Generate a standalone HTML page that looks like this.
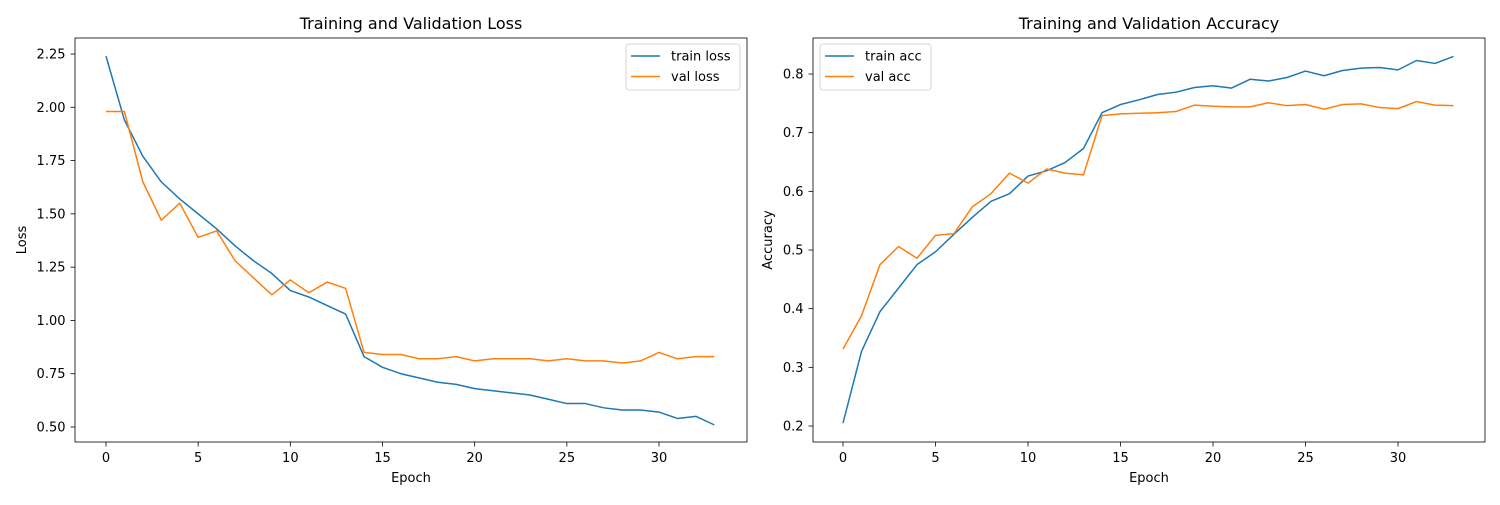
<!DOCTYPE html>
<html><head><meta charset="utf-8"><style>
body{margin:0;background:#fff;font-family:"Liberation Sans","DejaVu Sans",sans-serif}
svg text{font-family:"DejaVu Sans","Liberation Sans",sans-serif}
</style></head><body>
<svg id="c" width="1500" height="500"></svg>
<script>
const epochs = Array.from({length:34},(_,i)=>i);
const trainLoss=[2.24,1.94,1.77,1.65,1.57,1.50,1.43,1.35,1.28,1.22,1.14,1.11,1.07,1.03,0.83,0.78,0.75,0.73,0.71,0.70,0.68,0.67,0.66,0.65,0.63,0.61,0.61,0.59,0.58,0.58,0.57,0.54,0.55,0.51];
const valLoss=[1.98,1.98,1.65,1.47,1.55,1.39,1.42,1.28,1.20,1.12,1.19,1.13,1.18,1.15,0.85,0.84,0.84,0.82,0.82,0.83,0.81,0.82,0.82,0.82,0.81,0.82,0.81,0.81,0.80,0.81,0.85,0.82,0.83,0.83];
const trainAcc=[0.205,0.327,0.395,0.435,0.475,0.497,0.527,0.556,0.583,0.596,0.626,0.635,0.649,0.673,0.734,0.748,0.756,0.765,0.769,0.777,0.780,0.776,0.791,0.788,0.794,0.805,0.797,0.806,0.810,0.811,0.807,0.823,0.818,0.830];
const valAcc=[0.331,0.388,0.475,0.506,0.486,0.525,0.528,0.574,0.596,0.631,0.614,0.638,0.631,0.628,0.729,0.732,0.733,0.734,0.736,0.747,0.745,0.744,0.744,0.751,0.746,0.748,0.740,0.748,0.749,0.743,0.741,0.753,0.747,0.746];
const xTicks=[0,5,10,15,20,25,30];
const lossTicks=[0.50,0.75,1.00,1.25,1.50,1.75,2.00,2.25];
const accTicks=[0.2,0.3,0.4,0.5,0.6,0.7,0.8];

const NS="http://www.w3.org/2000/svg";
const svg=document.getElementById('c');
function el(tag,attrs,parent){const e=document.createElementNS(NS,tag);for(const k in attrs)e.setAttribute(k,attrs[k]);(parent||svg).appendChild(e);return e;}
function txt(s,attrs,parent){const e=el('text',attrs,parent);e.textContent=s;return e;}

function panel(cfg){
  const g=el('g',{});
  
  
  const {x0,x1,y0,y1}=cfg;
  const X=v=>cfg.px0+(v-0)*(cfg.px30-cfg.px0)/30;
  const Y=v=>cfg.py0+(v-cfg.v0)*(cfg.py1-cfg.py0)/(cfg.v1-cfg.v0);
  cfg.series.forEach(s=>{
    const p=el('polyline',{points:s.data.map((d,i)=>X(epochs[i])+','+Y(d)).join(' '),fill:'none',stroke:s.color,'stroke-width':1.5,'stroke-linejoin':'round'},g);
    
    
  });
  const fr=el('rect',{x:x0,y:y0,width:x1-x0,height:y1-y0,fill:'none',stroke:'#000','stroke-width':0.8},g);
  
  
  xTicks.forEach(t=>{
    el('line',{x1:X(t),x2:X(t),y1:y1,y2:y1+4.5,stroke:'#000','stroke-width':0.8},g);
    const l=txt(String(t),{x:X(t),y:y1+20,'font-size':13,'text-anchor':'middle'},g);
    
    
  });
  cfg.ticks.forEach(t=>{
    el('line',{x1:x0-4.5,x2:x0,y1:Y(t),y2:Y(t),stroke:'#000','stroke-width':0.8},g);
    const l=txt(t.toFixed(cfg.dec),{x:x0-9.5,y:Y(t)+4.5,'font-size':13,'text-anchor':'end'},g);
    
    
  });
  const ti=txt(cfg.title,{x:(x0+x1)/2,y:y0-9,'font-size':16,'text-anchor':'middle'},g);
  
  
  const xl=txt('Epoch',{x:(x0+x1)/2,y:482,'font-size':13,'text-anchor':'middle'},g);
  
  
  const yl=txt(cfg.ylabel,{x:0,y:0,'font-size':13,'text-anchor':'middle',transform:`translate(${cfg.ylx},${(y0+y1)/2}) rotate(-90)`},g);
  
  
  const lg=el('g',{},g);
  
  
  el('rect',{x:cfg.lx,y:44,width:cfg.lw,height:46,rx:3,fill:'#fff',stroke:'#ccc','stroke-width':0.8},lg);
  cfg.series.forEach((s,i)=>{
    const yy=56+i*20.5;
    el('line',{x1:cfg.lx+5,x2:cfg.lx+34,y1:yy,y2:yy,stroke:s.color,'stroke-width':1.5},lg);
    const t=txt(s.label,{x:cfg.lx+45,y:yy+4.5,'font-size':13},lg);
    
    
  });
}
panel({name:'loss-chart',x0:75,x1:747,y0:38,y1:442,px0:106,px30:659,v0:0.5,v1:2.25,py0:427,py1:54,ticks:lossTicks,dec:2,
  title:'Training and Validation Loss',ylabel:'Loss',ylx:26,lx:626,lw:114,
  series:[{id:'train-loss',label:'train loss',data:trainLoss,color:'#1f77b4'},{id:'val-loss',label:'val loss',data:valLoss,color:'#ff7f0e'}]});
panel({name:'accuracy-chart',x0:813,x1:1485,y0:38,y1:442,px0:843,px30:1398,v0:0.2,v1:0.8,py0:426,py1:74,ticks:accTicks,dec:1,
  title:'Training and Validation Accuracy',ylabel:'Accuracy',ylx:772,lx:820,lw:111,
  series:[{id:'train-acc',label:'train acc',data:trainAcc,color:'#1f77b4'},{id:'val-acc',label:'val acc',data:valAcc,color:'#ff7f0e'}]});
</script>
</body></html>
